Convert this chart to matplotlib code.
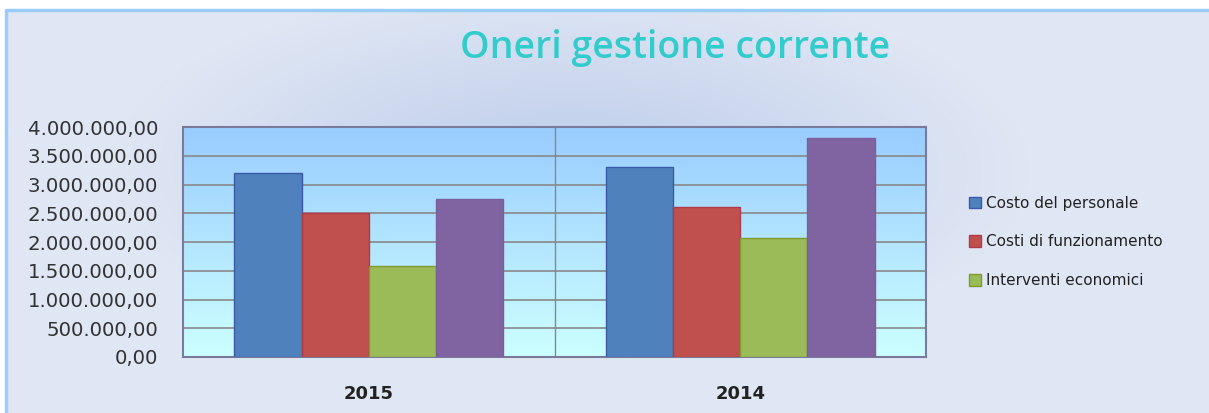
import numpy as np
import matplotlib
matplotlib.use("Agg")
from matplotlib import pyplot as plt
from matplotlib.patches import Rectangle
from matplotlib.ticker import FuncFormatter

# data
anni = ["2015", "2014"]
serie = ["Costo del personale", "Costi di funzionamento", "Interventi economici", "Altri oneri"]
costo_personale = [3195000, 3300000]
costi_funzionamento = [2500000, 2610000]
interventi_economici = [1583000, 2070000]
altri_oneri = [2740000, 3810000]
valori = [costo_personale, costi_funzionamento, interventi_economici, altri_oneri]

colori = ["#4f81bd", "#c0504d", "#9bbb59", "#8064a2"]
bordi = ["#3a5aa8", "#b03a48", "#7f9a2e", "#7a5f9c"]

W, H = 1209, 413
fig = plt.figure(figsize=(W / 100, H / 100), dpi=100)

# background with soft bluish glow
bg = fig.add_axes([0, 0, 1, 1], zorder=-10)
yy, xx = np.mgrid[0:H, 0:W]
d = np.sqrt(((xx - 570) / 460.0) ** 2 + ((yy - 170) / 190.0) ** 2)
t = np.clip(1 - d, 0, 1) ** 1.1
c0 = np.array([0xdf, 0xe6, 0xf4]) / 255
c1 = np.array([0xbb, 0xcb, 0xea]) / 255
img = c0[None, None, :] * (1 - t[..., None]) + c1[None, None, :] * t[..., None]
bg.imshow(img, extent=[0, W, H, 0], aspect="auto")
bg.add_patch(Rectangle((0, 0), 6, H, color="white"))
bg.add_patch(Rectangle((0, 0), W, 10, color="white"))
bg.plot([6, 6, W], [H, 10, 10], color="#99ccff", lw=2.5)
bg.set_xlim(0, W)
bg.set_ylim(H, 0)
bg.axis("off")

ax = fig.add_axes([183 / W, 1 - 357 / H, (926 - 183) / W, (357 - 127) / H])

# vertical gradient in the plot area
grad = np.linspace(0, 1, 256)[:, None]
top = np.array([0x99, 0xcc, 0xff]) / 255
bot = np.array([0xcc, 0xff, 0xff]) / 255
gimg = top[None, None, :] * (1 - grad[..., None]) + bot[None, None, :] * grad[..., None]
ax.imshow(np.repeat(gimg, 2, axis=1), extent=[-0.5, 1.5, 0, 4000000], aspect="auto", zorder=0)

x = np.arange(len(anni))
w = 0.181
for i, (vals, c, e) in enumerate(zip(valori, colori, bordi)):
    ax.bar(x + (i - 1.5) * w, vals, w, color=c, edgecolor=e, linewidth=1,
           label=serie[i], zorder=3)

ax.set_xlim(-0.5, 1.5)
ax.set_ylim(0, 4000000)
ax.set_yticks(np.arange(0, 4000001, 500000))
ax.yaxis.set_major_formatter(FuncFormatter(
    lambda v, p: "{:,.2f}".format(v).replace(",", "X").replace(".", ",").replace("X", ".")))
ax.set_xticks(x)
ax.set_xticklabels(anni, fontsize=13, fontweight="bold", color="#222222")
ax.tick_params(axis="x", length=0, pad=20)
ax.tick_params(axis="y", length=0, pad=18, labelsize=14.2, labelcolor="#333333")
ax.grid(axis="y", color="#888888", lw=1.2, zorder=1)
ax.axvline(0.5, color="#888888", lw=1, zorder=1)
for s in ax.spines.values():
    s.set_color("#7a7a9a")
    s.set_linewidth(1.5)

h, l = ax.get_legend_handles_labels()
leg = fig.legend(h[:3], l[:3], loc="center left", bbox_to_anchor=(955 / W, 1 - 242 / H),
                 frameon=False, fontsize=11, labelspacing=1.55, handlelength=0.8,
                 handleheight=0.8, handletextpad=0.3)
for txt in leg.get_texts():
    txt.set_color("#222222")

fig.text(675 / W, 1 - 48 / H, "Oneri gestione corrente", ha="center", va="center",
         fontsize=27, color="#33cccc", fontweight="semibold", family="Open Sans")

fig.savefig("out.png", dpi=100)
